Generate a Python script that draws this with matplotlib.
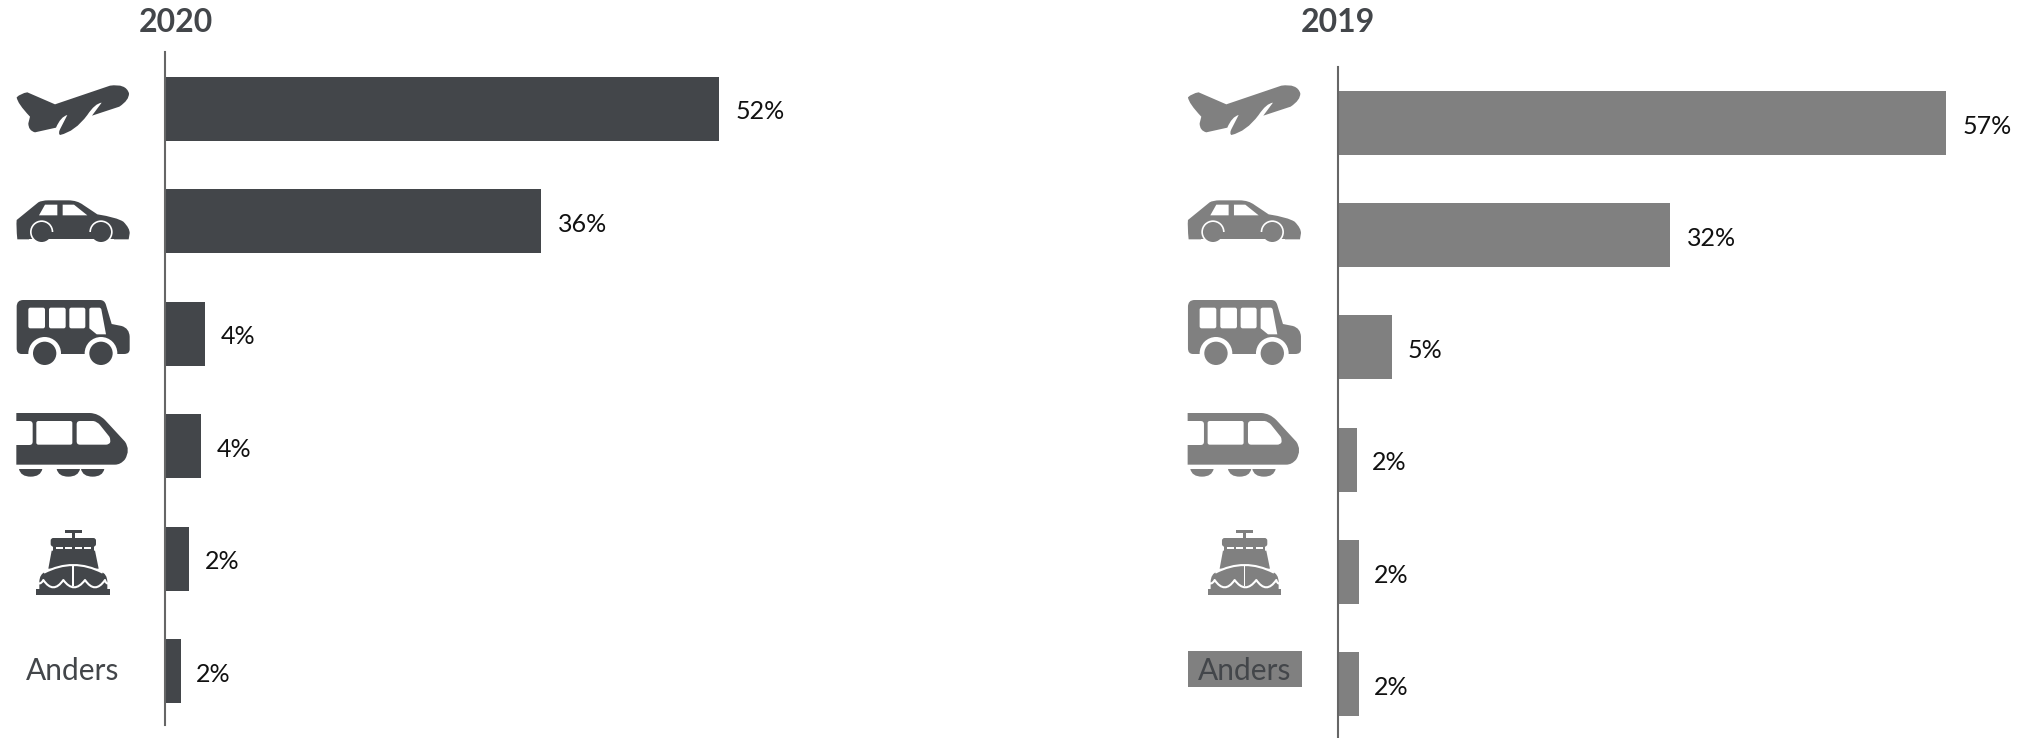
import matplotlib
matplotlib.use("Agg")
import matplotlib.pyplot as plt
from matplotlib.path import Path
from matplotlib.patches import PathPatch, Circle, Rectangle, FancyBboxPatch
from matplotlib.transforms import Affine2D

W, H = 2034, 738
DPI = 100
plt.rcParams['font.family'] = ['Lato', 'DejaVu Sans']

categories = ["Vliegtuig", "Auto", "Bus", "Trein", "Boot", "Anders"]
values_2020 = [52.0, 35.3, 3.8, 3.4, 2.3, 1.5]
values_2019 = [57.1, 31.2, 5.1, 1.75, 1.95, 1.95]
labels_2020 = ["52%", "36%", "4%", "4%", "2%", "2%"]
labels_2019 = ["57%", "32%", "5%", "2%", "2%", "2%"]

DARK = "#43464A"
GREY = "#808080"
AXIS = "#666666"
PX_PER_PCT = 10.65

fig = plt.figure(figsize=(W / DPI, H / DPI), dpi=DPI, facecolor="white")


def panel(x0, top, bottom, first_centre, spacing, values, labels, colour, title, title_cx):
    width_px = W - x0
    ax = fig.add_axes([x0 / W, 1 - bottom / H, width_px / W, (bottom - top) / H])
    ax.patch.set_alpha(0)
    ax.set_xlim(0, width_px / PX_PER_PCT)
    ax.set_ylim((bottom - first_centre) / spacing, (top - first_centre) / spacing)
    for s in ("top", "right", "bottom"):
        ax.spines[s].set_visible(False)
    ax.spines["left"].set_color(AXIS)
    ax.spines["left"].set_linewidth(1.5)
    ax.set_xticks([])
    ax.set_yticks([])
    pos = list(range(len(values)))
    ax.barh(pos, values, height=64 / spacing, color=colour, linewidth=0, zorder=1)
    for p, v, lab in zip(pos, values, labels):
        off = 12.0 if len(lab) == 3 else 11.0
        ax.annotate(lab, (v, p), xytext=(off, -2.4), textcoords="offset points",
                    va="center", ha="left", fontsize=18, color="#111111")
    fig.text(title_cx / W, 1 - 22 / H, title, fontsize=23, fontweight="bold",
             color=DARK, ha="center", va="center")


panel(165, 52, 725, 108.5, 112.5, values_2020, labels_2020, DARK, "2020", 175.5)
panel(1338, 67, 738, 123, 112.2, values_2019, labels_2019, GREY, "2019", 1338)

# overlay in reference pixels for the pictograms
ov = fig.add_axes([0, 0, 1, 1], zorder=5)
ov.set_xlim(0, W)
ov.set_ylim(H, 0)
ov.axis("off")


def smooth(points, close=True):
    verts, codes = [], []
    for i, p in enumerate(points):
        if len(p) == 2:
            verts.append(p)
            codes.append(Path.MOVETO if i == 0 else Path.LINETO)
        else:
            verts += [(p[0], p[1]), (p[2], p[3])]
            codes += [Path.CURVE3, Path.CURVE3]
    if close:
        verts.append(points[0][:2])
        codes.append(Path.CLOSEPOLY)
    return Path(verts, codes)


def draw_icons(dx, col):
    crop1 = Affine2D().scale(1 / 3).translate(dx, 0) + ov.transData
    crop2 = Affine2D().scale(1 / 3).translate(dx, 370) + ov.transData

    def shape(pts, c, tr, z=6):
        ov.add_patch(PathPatch(smooth(pts), fc=c, ec="none", transform=tr, zorder=z))

    def stroke(pts, tr, lw=1.5, z=8):
        ov.add_patch(PathPatch(smooth(pts, close=False), fc="none", ec="white", lw=lw,
                               transform=tr, zorder=z, capstyle="butt", joinstyle="round"))

    def disc(x, y, r, c, tr, z=6):
        ov.add_patch(Circle((x, y), r, fc=c, ec="none", transform=tr, zorder=z))

    def rrect(x0, y0, x1, y1, c, tr, r=6, z=7):
        ov.add_patch(FancyBboxPatch((x0 + r, y0 + r), x1 - x0 - 2 * r, y1 - y0 - 2 * r,
                                    boxstyle=f"round,pad={r},rounding_size={r}",
                                    fc=c, ec="none", transform=tr, zorder=z))

    def box(x0, y0, x1, y1, c, tr, z=6):
        ov.add_patch(Rectangle((x0, y0), x1 - x0, y1 - y0, fc=c, ec="none", transform=tr, zorder=z))

    # plane
    shape([(50, 292), (62, 280, 82, 277), (165, 313), (330, 257), (378, 250, 387, 280),
           (388, 300, 358, 320), (276, 347), (305, 308), (285, 310, 262, 345),
           (225, 395, 180, 405), (174, 400, 180, 388), (202, 345), (182, 350, 168, 383),
           (105, 397), (85, 392, 85, 370), (90, 350), (52, 310, 50, 292)], col, crop1)

    # car
    shape([(52, 718), (48, 680, 50, 660), (115, 607), (125, 601, 145, 601), (205, 601),
           (232, 601, 250, 615), (292, 643), (350, 652, 370, 665), (390, 685, 389, 700),
           (386, 718)], col, crop1)
    for cx in (125, 303):
        disc(cx, 696, 35, "white", crop1, 7)
    box(88, 718, 342, 735, "white", crop1, 7)
    box(146, 696, 282, 718, col, crop1, 8)
    for cx in (125, 303):
        disc(cx, 696, 30, col, crop1, 9)
    shape([(117, 646), (135, 614), (172, 614), (172, 646)], "white", crop1, 10)
    shape([(188, 614), (222, 614), (262, 646), (188, 646)], "white", crop1, 10)

    # bus
    shape([(50, 920), (50, 900, 70, 900), (300, 900), (314, 900, 318, 915), (335, 972),
           (365, 978), (388, 985, 389, 1010), (389, 1048), (389, 1062, 372, 1062),
           (65, 1062), (50, 1062, 50, 1045)], col, crop1)
    rrect(85, 923, 135, 985, "white", crop1)
    rrect(147, 923, 197, 985, "white", crop1)
    rrect(208, 923, 256, 985, "white", crop1)
    shape([(268, 928), (268, 923, 275, 923), (298, 923), (302, 923, 304, 928), (318, 1003),
           (290, 1003), (268, 985)], "white", crop1, 7)
    for cx in (134, 303):
        disc(cx, 1060, 49, "white", crop1, 7)
        disc(cx, 1060, 35, col, crop1, 8)

    # train
    shape([(49, 129), (270, 129), (295, 130, 315, 150), (375, 215), (392, 240, 375, 268),
           (362, 284, 345, 284), (49, 284), (49, 225), (88, 225), (98, 225, 98, 215),
           (98, 163), (98, 153, 88, 153), (49, 153)], col, crop2)
    rrect(109, 153, 217, 224, "white", crop2)
    shape([(230, 163), (230, 153, 240, 153), (280, 153), (292, 155, 300, 165), (328, 200),
           (333, 210, 330, 218), (326, 224, 318, 224), (240, 224), (230, 224, 230, 214)],
          "white", crop2, 7)
    for cx in (92, 205, 278):
        shape([(cx - 35, 297), (cx - 30, 320, cx, 320), (cx + 30, 320, cx + 35, 297)], col, crop2)

    # boat
    box(195, 479, 245, 488, col, crop2)
    box(215, 485, 224, 507, col, crop2)
    rrect(152, 504, 288, 530, col, crop2, r=8, z=6)
    box(158, 528, 282, 545, col, crop2)
    for xs in (167, 195, 224, 253):
        box(xs, 532, xs + 21, 538, "white", crop2, 7)
    shape([(155, 542), (285, 542), (296, 596), (145, 596)], col, crop2)
    shape([(118, 636), (118, 612, 138, 604), (220, 562, 302, 604), (322, 612, 322, 636),
           (322, 658), (118, 658)], col, crop2)
    stroke([(132, 608), (220, 562, 308, 608)], crop2, lw=1.5)
    box(217, 584, 222, 648, "white", crop2, 8)
    stroke([(116, 640), (124, 642, 130, 630), (160, 674, 190, 630), (222, 674, 255, 630),
            (285, 674, 315, 630), (318, 642, 324, 640)], crop2, lw=1.5)
    box(109, 656, 330, 674, col, crop2, 9)


draw_icons(0, DARK)
draw_icons(1171.3, GREY)

# "Anders" row labels
ov.text(73, 671, categories[5], fontsize=21.5, color=DARK, ha="center", va="center", zorder=10)
ov.add_patch(Rectangle((1188, 651), 114, 36, fc=GREY, ec="none", zorder=6))
ov.text(1245, 671, categories[5], fontsize=21.5, color=DARK, ha="center", va="center", zorder=10)

fig.savefig("out.png", dpi=DPI, facecolor="white")
